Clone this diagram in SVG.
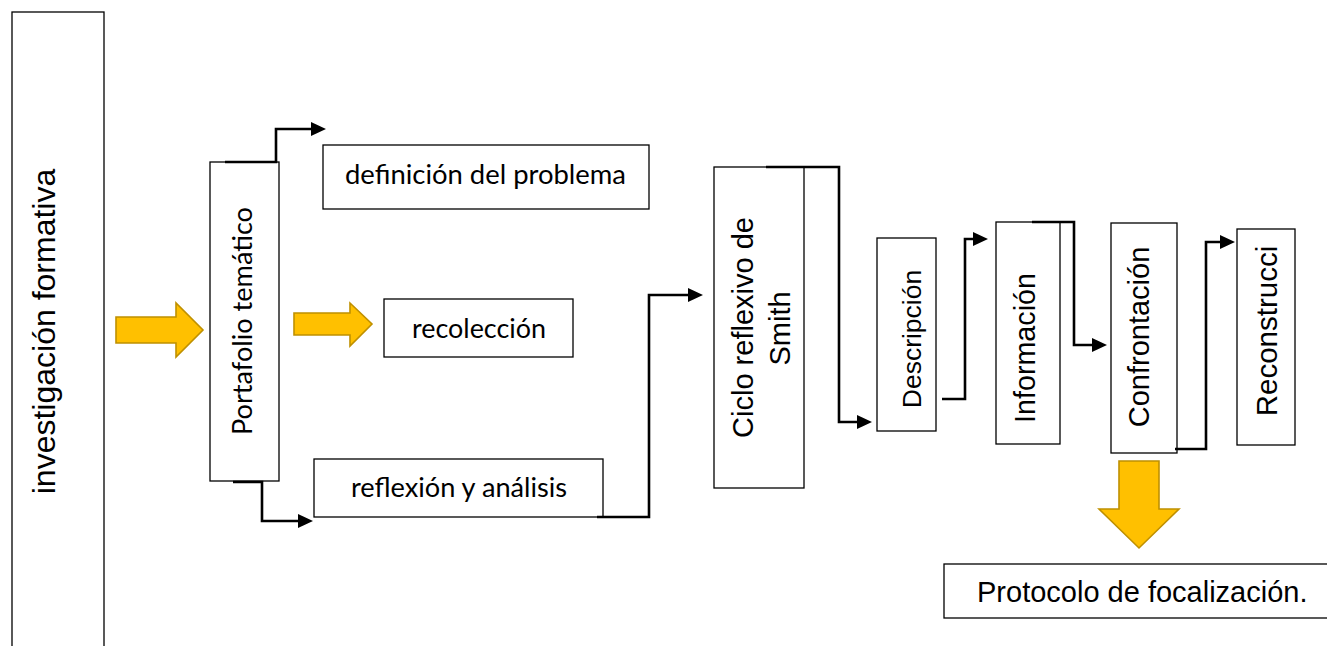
<svg xmlns="http://www.w3.org/2000/svg" width="1327" height="646" viewBox="0 0 1327 646">
<defs>
<style>
.box{fill:#fff;stroke:#000;stroke-width:1.3}
.ar{font-family:"Liberation Sans",Arial,sans-serif;fill:#000}
.cal{font-family:Lato,"Open Sans",sans-serif;fill:#000}
.con{fill:none;stroke:#000;stroke-width:2.6}
.ya{fill:#FFC000;stroke:#BF9000;stroke-width:1.6;stroke-linejoin:miter}
</style>
<marker id="ah" markerUnits="userSpaceOnUse" markerWidth="16" markerHeight="14" refX="1" refY="7" orient="auto">
<path d="M0,0 L15,7 L0,14 Z" fill="#000"/>
</marker>
</defs>
<rect width="1327" height="646" fill="#fff"/>

<g id="investigacion">
<rect class="box" x="12" y="12" width="92" height="660"/>
<text class="ar" font-size="32" text-anchor="middle" transform="translate(55,331.5) rotate(-90)">investigación formativa</text>
</g>

<g id="arrow-yellow-1"><polygon class="ya" points="116,317 176,317 176,303 203,330 176,357 176,343 116,343"/></g>

<g id="portafolio">
<rect class="box" x="210" y="162" width="69" height="319"/>
<text class="cal" font-size="26" text-anchor="middle" textLength="228" lengthAdjust="spacingAndGlyphs" transform="translate(252,321) rotate(-90)">Portafolio temático</text>
</g>

<g id="definicion">
<rect class="box" x="323" y="145" width="326" height="64"/>
<text class="cal" font-size="26" x="485.5" y="184" text-anchor="middle" textLength="281" lengthAdjust="spacingAndGlyphs">definición del problema</text>
</g>

<g id="arrow-yellow-2"><polygon class="ya" points="294,313 350,313 350,303 372,324 350,346 350,335 294,335"/></g>

<g id="recoleccion">
<rect class="box" x="384" y="299" width="189" height="58"/>
<text class="cal" font-size="26" x="479" y="338" text-anchor="middle" textLength="134" lengthAdjust="spacingAndGlyphs">recolección</text>
</g>

<g id="reflexion">
<rect class="box" x="314" y="459" width="289" height="58"/>
<text class="cal" font-size="26" x="459" y="497" text-anchor="middle" textLength="216" lengthAdjust="spacingAndGlyphs">reflexión y análisis</text>
</g>

<g id="ciclo">
<rect class="box" x="714" y="167" width="90" height="321"/>
<text class="ar" font-size="29" text-anchor="middle" transform="translate(753,327.5) rotate(-90)">Ciclo reflexivo de</text>
<text class="ar" font-size="29" text-anchor="middle" transform="translate(790,328.5) rotate(-90)">Smith</text>
</g>

<g id="descripcion">
<rect class="box" x="877" y="238" width="59" height="193"/>
<text class="ar" font-size="26.5" text-anchor="middle" transform="translate(921,339) rotate(-90)">Descripción</text>
</g>

<g id="informacion">
<rect class="box" x="996" y="222" width="64" height="222"/>
<text class="ar" font-size="28.7" text-anchor="middle" transform="translate(1035,348) rotate(-90)">Información</text>
</g>

<g id="confrontacion">
<rect class="box" x="1111" y="223" width="66" height="230"/>
<text class="ar" font-size="29" text-anchor="middle" transform="translate(1149,337) rotate(-90)">Confrontación</text>
</g>

<g id="reconstruccion">
<rect class="box" x="1237" y="229" width="58" height="216"/>
<text class="ar" font-size="29.5" text-anchor="middle" transform="translate(1277,331) rotate(-90)">Reconstrucci</text>
</g>

<g id="arrow-yellow-3"><polygon class="ya" points="1119,461 1159,461 1159,509 1179,509 1139,548 1099,509 1119,509"/></g>

<g id="protocolo">
<rect class="box" x="944" y="564" width="420" height="54"/>
<text class="ar" font-size="29" x="977" y="602">Protocolo de focalización.</text>
</g>

<g id="connectors">
<path class="con" marker-end="url(#ah)" d="M225,162 H276 V129 H312"/>
<path class="con" marker-end="url(#ah)" d="M233,482 H262 V521 H299"/>
<path class="con" marker-end="url(#ah)" d="M597,517 H649 V295 H689"/>
<path class="con" marker-end="url(#ah)" d="M766,167 H839 V422 H858"/>
<path class="con" marker-end="url(#ah)" d="M942,399 H965 V239 H974"/>
<path class="con" marker-end="url(#ah)" d="M1032,222 H1074 V345 H1093"/>
<path class="con" marker-end="url(#ah)" d="M1175,449 H1206 V242 H1221"/>
</g>
</svg>
